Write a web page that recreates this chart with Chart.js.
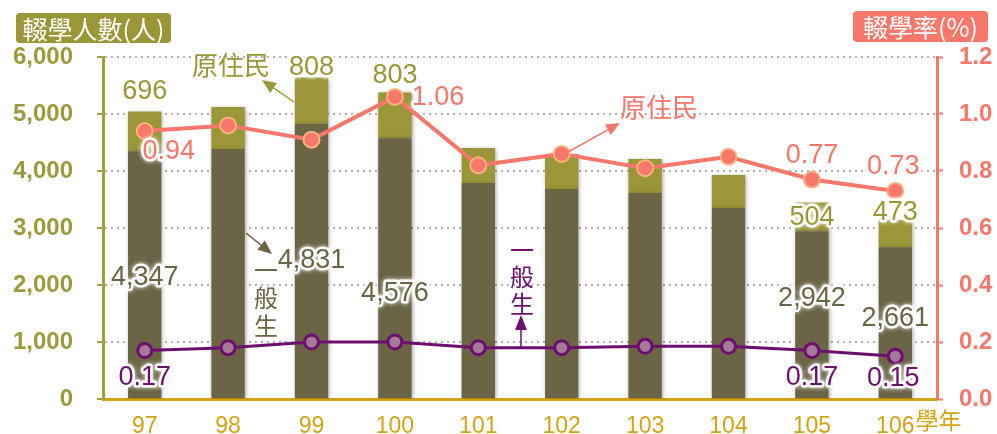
<!DOCTYPE html>
<html>
<head>
<meta charset="utf-8">
<script src="https://cdn.jsdelivr.net/npm/chart.js@4.4.1/dist/chart.umd.min.js"></script>
<style>
  body { margin: 0; background: #fff; }
  #wrap { width: 997px; height: 434px; position: relative; }
</style>
</head>
<body>
<div id="wrap"><canvas id="chart1"></canvas></div>
<script>
// data
const years = ["97", "98", "99", "100", "101", "102", "103", "104", "105", "106"];
const generalCount = [4347, 4386, 4831, 4576, 3789, 3684, 3614, 3351, 2942, 2661];
const aboriginalCount = [696, 737, 808, 803, 615, 614, 597, 579, 504, 473];
const aboriginalRate = [0.94, 0.96, 0.91, 1.06, 0.82, 0.86, 0.81, 0.85, 0.77, 0.73];
const generalRate = [0.17, 0.18, 0.2, 0.2, 0.18, 0.18, 0.185, 0.185, 0.17, 0.15];
const countTicks = [0, 1000, 2000, 3000, 4000, 5000, 6000];
const rateTicks = [0, 0.2, 0.4, 0.6, 0.8, 1.0, 1.2];

// colours
const OLIVE = "#9b9637";
const DARK = "#6b6546";
const AXIS_OLIVE = "#a3a03e";
const SALMON = "#f7776a";
const PURPLE = "#6c0f6e";
const GOLD = "#d4a215";
const NUM_FONT = "'Liberation Sans', Arial, sans-serif";
const CJK_FONT = "'Noto Sans CJK TC', 'Noto Sans', sans-serif";

// which points get a value label, and where it sits relative to the mark
const labelSpots = {
  aboriginalCount: { idx: [0, 2, 3, 8, 9], dx: [0, 0, 0, 0, 0], dy: [-20, -10, -17, 15, -8] },
  generalCount: { idx: [0, 2, 3, 8, 9], dx: [0, 0, 0, 0, 0], dy: [126, 137, 155, 67, 71] },
  aboriginalRate: { idx: [0, 3, 8, 9], dx: [24, 43, 0, -2], dy: [20, 1, -24, -24] },
  generalRate: { idx: [0, 8, 9], dx: [0, 0, -2], dy: [27, 27, 22] },
};

function haloText(ctx, text, x, y, color, font) {
  ctx.save();
  ctx.font = font;
  ctx.textAlign = "center";
  ctx.textBaseline = "middle";
  ctx.lineJoin = "round";
  ctx.shadowColor = "#fff";
  ctx.shadowBlur = 4;
  ctx.strokeStyle = "rgba(255,255,255,0.95)";
  ctx.lineWidth = 5;
  ctx.strokeText(text, x, y);
  ctx.shadowBlur = 0;
  ctx.fillStyle = color;
  ctx.fillText(text, x, y);
  ctx.restore();
}

function arrow(ctx, x1, y1, x2, y2, color, width, headLen, headW) {
  const a = Math.atan2(y2 - y1, x2 - x1);
  const bx = x2 - headLen * Math.cos(a), by = y2 - headLen * Math.sin(a);
  ctx.save();
  ctx.strokeStyle = color;
  ctx.fillStyle = color;
  ctx.lineWidth = width;
  ctx.beginPath();
  ctx.moveTo(x1, y1);
  ctx.lineTo(bx, by);
  ctx.stroke();
  ctx.beginPath();
  ctx.moveTo(x2, y2);
  ctx.lineTo(bx + headW * Math.sin(a), by - headW * Math.cos(a));
  ctx.lineTo(bx - headW * Math.sin(a), by + headW * Math.cos(a));
  ctx.closePath();
  ctx.fill();
  ctx.restore();
}

function roundBox(ctx, x, y, w, h, r, fill, text) {
  ctx.save();
  ctx.fillStyle = fill;
  ctx.beginPath();
  ctx.roundRect(x, y, w, h, r);
  ctx.fill();
  ctx.fillStyle = "#fff";
  ctx.font = "25px " + CJK_FONT;
  ctx.textAlign = "center";
  ctx.textBaseline = "middle";
  ctx.fillText(text, x + w / 2, y + h / 2 + 1);
  ctx.restore();
}

function verticalText(ctx, chars, x, y, step, color) {
  ctx.save();
  ctx.font = "24px " + CJK_FONT;
  ctx.fillStyle = color;
  ctx.textAlign = "center";
  ctx.textBaseline = "middle";
  chars.split("").forEach((c, i) => ctx.fillText(c, x, y + i * step));
  ctx.restore();
}

// the y scales add their tick padding to the layout; drop it so the plot box is exact
function fixY(width) {
  return (s) => {
    s.width = width;
    s.paddingTop = 0;
    s.paddingBottom = 0;
  };
}

// soft shadow under the bars
const barShadow = {
  id: "barShadow",
  beforeDatasetDraw(chart, args) {
    if (args.meta.type !== "bar") return;
    const ctx = chart.ctx;
    ctx.save();
    ctx.shadowColor = "rgba(0,0,0,0.35)";
    ctx.shadowBlur = 4;
    ctx.shadowOffsetX = 1;
    ctx.shadowOffsetY = 1;
  },
  afterDatasetDraw(chart, args) {
    if (args.meta.type !== "bar") return;
    chart.ctx.restore();
  },
};

const extras = {
  id: "extras",
  afterDraw(chart) {
    const ctx = chart.ctx;
    const bigNum = "27px " + NUM_FONT;

    // value labels
    const sets = [
      ["aboriginalCount", 1, OLIVE, (v) => v.toLocaleString("en-US")],
      ["generalCount", 0, DARK, (v) => v.toLocaleString("en-US")],
      ["aboriginalRate", 2, SALMON, (v) => v.toFixed(2)],
      ["generalRate", 3, PURPLE, (v) => v.toFixed(2)],
    ];
    sets.forEach(([key, dsIndex, color, fmt]) => {
      const spot = labelSpots[key];
      const meta = chart.getDatasetMeta(dsIndex);
      const values = chart.data.datasets[dsIndex].data;
      spot.idx.forEach((i, k) => {
        const el = meta.data[i];
        haloText(ctx, fmt(values[i]), el.x + spot.dx[k], el.y + spot.dy[k], color, bigNum);
      });
    });

    // titles
    roundBox(ctx, 16, 13, 155, 30, 4, OLIVE, "輟學人數(人)");
    roundBox(ctx, 853, 11, 135, 31, 4, SALMON, "輟學率(%)");

    // annotations
    ctx.save();
    ctx.font = "26px " + CJK_FONT;
    ctx.textAlign = "center";
    ctx.textBaseline = "middle";
    ctx.fillStyle = OLIVE;
    ctx.fillText("原住民", 231, 65);
    ctx.fillStyle = SALMON;
    ctx.fillText("原住民", 659, 107);
    ctx.restore();
    arrow(ctx, 294, 102, 262, 80, OLIVE, 1.5, 14, 6);
    arrow(ctx, 568, 152, 620, 123, SALMON, 1.5, 14, 6);

    verticalText(ctx, "一般生", 266, 270, 28, DARK);
    arrow(ctx, 246, 233, 272, 254, DARK, 1.5, 14, 6);
    verticalText(ctx, "一般生", 522, 250, 27, PURPLE);
    arrow(ctx, 521, 347, 521, 315, PURPLE, 1.5, 15, 6);

    // unit after the last category
    const xs = chart.scales.x;
    const last = xs.getPixelForTick(years.length - 1);
    ctx.save();
    ctx.font = "23px " + NUM_FONT;
    const w = ctx.measureText(years[years.length - 1]).width;
    ctx.font = "23px " + CJK_FONT;
    ctx.fillStyle = GOLD;
    ctx.textBaseline = "middle";
    ctx.fillText("學年", last + w / 2 + 1, 420);
    ctx.restore();
  },
};

const ctx1 = document.getElementById("chart1").getContext("2d");
new Chart(ctx1, {
  type: "bar",
  data: {
    labels: years,
    datasets: [
      {
        label: "一般生人數",
        data: generalCount,
        backgroundColor: DARK,
        yAxisID: "y",
        stack: "s",
        order: 2,
        barPercentage: 0.4,
        categoryPercentage: 1,
      },
      {
        label: "原住民人數",
        data: aboriginalCount,
        backgroundColor: OLIVE,
        yAxisID: "y",
        stack: "s",
        order: 2,
        barPercentage: 0.4,
        categoryPercentage: 1,
      },
      {
        type: "line",
        label: "原住民輟學率",
        data: aboriginalRate,
        yAxisID: "y1",
        borderColor: SALMON,
        borderWidth: 4,
        pointRadius: 8,
        pointBackgroundColor: SALMON,
        pointBorderColor: "#f6b27f",
        pointBorderWidth: 2,
        tension: 0,
        order: 1,
      },
      {
        type: "line",
        label: "一般生輟學率",
        data: generalRate,
        yAxisID: "y1",
        borderColor: PURPLE,
        borderWidth: 3,
        pointRadius: 7,
        pointBackgroundColor: "#a6789a",
        pointBorderColor: PURPLE,
        pointBorderWidth: 3,
        tension: 0,
        order: 1,
      },
    ],
  },
  options: {
    responsive: true,
    maintainAspectRatio: false,
    animation: false,
    layout: { padding: { top: 57, left: 0, right: 0, bottom: 0 } },
    plugins: {
      legend: { display: false },
      tooltip: { enabled: false },
    },
    scales: {
      x: {
        stacked: true,
        grid: { display: false },
        border: { display: true, color: GOLD, width: 3 },
        ticks: { color: GOLD, font: { family: NUM_FONT, size: 23 }, padding: 6 },
        afterFit: (s) => { s.height = 35; },
      },
      y: {
        stacked: true,
        position: "left",
        min: 0,
        max: 6000,
        afterBuildTicks: (s) => { s.ticks = countTicks.map((v) => ({ value: v })); },
        grid: {
          color: "#b0b0b0",
          lineWidth: 2,
          tickLength: 6,
          tickColor: AXIS_OLIVE,
          tickWidth: 2,
        },
        border: { display: true, color: AXIS_OLIVE, width: 3, dash: [2, 4] },
        ticks: {
          color: "#9d9a3c",
          font: { family: NUM_FONT, size: 24, weight: "bold" },
          padding: 24,
          callback: (v) => v.toLocaleString("en-US"),
        },
        afterFit: fixY(103),
      },
      y1: {
        position: "right",
        min: 0,
        max: 1.2,
        afterBuildTicks: (s) => { s.ticks = rateTicks.map((v) => ({ value: v })); },
        grid: {
          drawOnChartArea: false,
          tickLength: 6,
          tickColor: SALMON,
          tickWidth: 2,
        },
        border: { display: true, color: SALMON, width: 3 },
        ticks: {
          color: SALMON,
          font: { family: NUM_FONT, size: 24, weight: "bold" },
          padding: 16,
          callback: (v) => v.toFixed(1),
        },
        afterFit: fixY(60),
      },
    },
  },
  plugins: [barShadow, extras],
});
</script>
</body>
</html>
